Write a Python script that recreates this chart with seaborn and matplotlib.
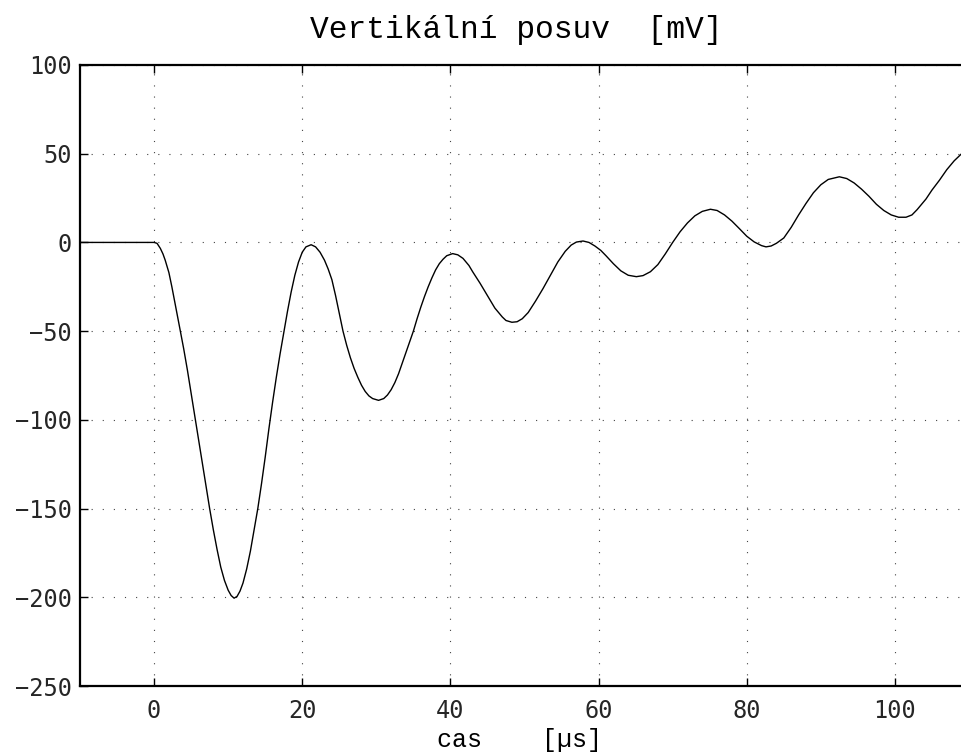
import matplotlib
matplotlib.use("Agg")
import matplotlib.pyplot as plt
import seaborn as sns
import pandas as pd

# Time axis [µs] and measured vertical displacement [mV]
cas_us = [-10, 0, 0.4, 0.85, 1.2, 1.5, 2, 2.4, 3, 3.5, 4, 4.5, 5, 5.5, 6, 6.5, 7,
          7.5, 8, 8.5, 9, 9.5, 10, 10.4, 10.8, 11.2, 11.6, 12, 12.5, 13, 13.5,
          14, 14.5, 15, 15.5, 16, 16.5, 17, 17.5, 18, 18.5, 19, 19.5, 20, 20.5,
          21.2, 21.8, 22.4, 23, 23.5, 24, 24.5, 25, 25.5, 26, 26.5, 27, 27.5,
          28, 28.5, 29, 29.5, 30.3, 31, 31.5, 32, 32.5, 33, 33.5, 34, 34.5, 35,
          35.5, 36, 36.5, 37, 37.5, 38, 38.5, 39, 39.5, 40.3, 41, 41.7, 42.5,
          43, 44, 45, 46, 47, 47.5, 48.3, 49, 49.7, 50.5, 51.5, 52.5, 53.5,
          54.5, 55.5, 56.3, 57, 57.9, 58.7, 59.5, 60.3, 61, 62, 63, 64, 65.1,
          66, 67, 68, 69, 70, 71, 72, 73, 74, 75.1, 76, 77, 78, 79, 80, 81, 82,
          82.6, 83.3, 84, 85, 86, 87, 88, 89, 90, 91, 92.5, 93.5, 94.5, 95.5,
          96.5, 97.5, 98.5, 99.5, 100.5, 101.5, 102.3, 103, 104.2, 105, 106,
          107, 108, 109, 110]
posuv_mV = [0, 0, -0.5, -3.4, -6.5, -10, -17, -25, -38, -49, -60, -72, -85, -98,
            -111, -124, -137, -150, -162, -173, -183, -190.5, -196, -199,
            -200.5, -199.5, -196.5, -192, -184, -174, -162, -150, -136, -121,
            -105, -90, -76, -63, -51, -39, -28, -18.5, -11, -5.5, -2.5, -1.3,
            -2.5, -5.5, -10, -15, -21, -30, -40, -50, -58, -65, -71, -76, -80.5,
            -84, -86.5, -88, -89, -88, -86, -83, -79, -74, -68, -62, -56, -50,
            -43, -36.5, -30.5, -25, -20, -15.5, -12, -9.5, -7.5, -6.3, -7, -9,
            -13, -16.5, -23, -30, -37, -42, -44, -45, -44.7, -43, -39.5, -33,
            -26, -18.5, -11, -5, -1.5, 0.2, 0.8, 0, -2, -4.5, -7.5, -12, -16,
            -18.5, -19.3, -18.7, -16.5, -12.5, -6.5, 0, 6, 11, 15, 17.5, 18.7,
            18, 15.5, 12, 7.8, 3.5, 0.3, -1.8, -2.5, -2, -0.5, 2.5, 8.5, 15.5,
            22, 28, 32.5, 35.5, 37, 36, 33.5, 30, 26, 21.5, 18, 15.5, 14.2,
            14.2, 15.5, 18.5, 24.5, 29.5, 35, 41, 46, 50, 54]

x_ticks = [0, 20, 40, 60, 80, 100]
y_ticks = [-250, -200, -150, -100, -50, 0, 50, 100]

sns.set_theme(style="white")
plt.rcParams["axes.unicode_minus"] = True

fig = plt.figure(figsize=(9.62, 7.56), dpi=100)
W, H = 962, 756
ax = fig.add_axes([80 / W, (H - 686) / H, 889 / W, 621 / H])

df = pd.DataFrame({"cas": cas_us, "posuv": posuv_mV})
sns.lineplot(data=df, x="cas", y="posuv", ax=ax, color="black", linewidth=1.0,
             estimator=None, sort=False)

ax.set_xlim(-10, 110)
ax.set_ylim(-250, 100)
ax.set_xticks(x_ticks)
ax.set_yticks(y_ticks)

tick_font = {"family": "DejaVu Sans Mono", "size": 17}
ax.set_xticklabels([str(v) for v in x_ticks], fontdict=tick_font)
ax.set_yticklabels([str(v).replace("-", "\u2212") for v in y_ticks], fontdict=tick_font)

ax.tick_params(axis="both", direction="in", length=6, width=1.0, color="black",
               top=True, right=True, bottom=True, left=True)
ax.tick_params(axis="x", pad=9)
ax.tick_params(axis="y", pad=6)

for side in ["left", "bottom", "top", "right"]:
    ax.spines[side].set_visible(True)
    ax.spines[side].set_color("black")
    ax.spines[side].set_linewidth(1.6)

ax.grid(True, color="#444444", linewidth=0.8, linestyle=(0, (1, 9)))

ax.set_xlabel("")
ax.set_ylabel("")

fig.text(516 / W, 1 - 30 / H, "Vertikální posuv  [mV]", ha="center", va="center",
         family="Liberation Mono", fontsize=22.5, color="black")
fig.text(519.5 / W, 1 - 740 / H, "cas    [µs]", ha="center", va="center",
         family="Liberation Mono", fontsize=18, color="black")

fig.savefig("out.png", dpi=100, facecolor="white")
